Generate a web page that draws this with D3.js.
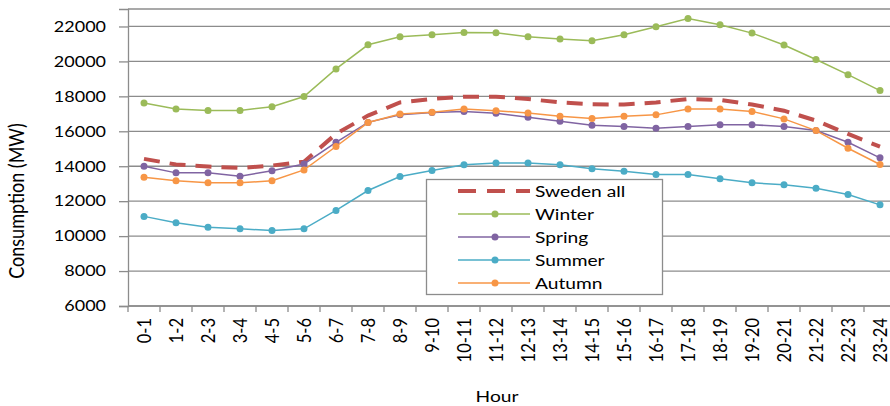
<!DOCTYPE html>
<html>
<head>
<meta charset="utf-8">
<script src="https://cdn.jsdelivr.net/npm/d3@7"></script>
<style>
  body { margin: 0; background: white; }
  svg { display: block; font-family: Lato, "Open Sans", sans-serif; }
</style>
</head>
<body>
<div id="viz-container"></div>
<script>
let w = 890;
let h = 406;

// hour categories
let hours = ["0-1","1-2","2-3","3-4","4-5","5-6","6-7","7-8","8-9","9-10","10-11","11-12",
             "12-13","13-14","14-15","15-16","16-17","17-18","18-19","19-20","20-21","21-22","22-23","23-24"];

let swedenAll = [14420,14100,13980,13900,14040,14260,15850,16900,17650,17850,17980,17980,
                 17850,17650,17550,17530,17650,17850,17800,17530,17180,16610,15850,15120];
let winter = [17620,17280,17190,17190,17410,17990,19570,20950,21410,21530,21650,21640,
              21410,21280,21180,21530,21980,22460,22100,21620,20940,20110,19240,18330];
let spring = [14000,13620,13620,13430,13740,14130,15370,16510,16950,17070,17140,17030,
              16800,16570,16340,16270,16170,16270,16380,16380,16270,16040,15370,14480];
let summer = [11130,10770,10510,10420,10320,10420,11470,12610,13410,13750,14080,14190,
              14190,14080,13850,13710,13530,13530,13280,13050,12940,12740,12380,11790];
let autumn = [13370,13170,13050,13050,13170,13790,15130,16500,16990,17090,17280,17180,
              17050,16860,16730,16860,16940,17280,17280,17140,16710,16040,15030,14100];

let yTicks = [6000,8000,10000,12000,14000,16000,18000,20000,22000];

let series = [
  {name: "Sweden all", values: swedenAll, color: "#C0504D", dashed: true},
  {name: "Winter", values: winter, color: "#9BBB59"},
  {name: "Spring", values: spring, color: "#8064A2"},
  {name: "Summer", values: summer, color: "#4BACC6"},
  {name: "Autumn", values: autumn, color: "#F79646"}
];

// the picture is a bit wider than tall, so text gets stretched sideways
let stretch = 1.2;

let viz = d3.select("#viz-container")
  .append("svg")
    .attr("width", w)
    .attr("height", h)
    .style("background-color", "white");

let plotLeft = 128, plotRight = 896, plotTop = 9, plotBottom = 306;

let x = d3.scaleBand().domain(hours).range([plotLeft, plotRight]);
let y = d3.scaleLinear().domain([6000, 23000]).range([plotBottom, plotTop]);

// gridlines
viz.append("g")
  .selectAll("line")
  .data(yTicks)
  .enter()
  .append("line")
    .attr("x1", plotLeft)
    .attr("x2", plotRight)
    .attr("y1", d => y(d))
    .attr("y2", d => y(d))
    .attr("stroke", "#8c8c8c")
    .attr("stroke-width", 1.3);

// top border of plot area
viz.append("line")
  .attr("x1", plotLeft).attr("x2", plotRight)
  .attr("y1", y(23000)).attr("y2", y(23000))
  .attr("stroke", "#8c8c8c").attr("stroke-width", 1.3);

// y axis
let yAxis = d3.axisLeft(y).tickValues(yTicks).tickSize(9).tickFormat(d3.format("d"));
let yg = viz.append("g")
  .attr("transform", "translate(" + plotLeft + ",0)")
  .call(yAxis);
yg.select(".domain").attr("stroke", "#8c8c8c").attr("stroke-width", 1.3);
yg.selectAll(".tick line").attr("stroke", "#8c8c8c").attr("stroke-width", 1.3);
yg.selectAll("text")
  .attr("x", 0)
  .attr("transform", "translate(-22,0) scale(" + stretch + ",1)")
  .attr("font-size", 15)
  .attr("fill", "#000")
  .attr("font-family", "Lato");

// x axis with ticks at category boundaries
let xg = viz.append("g")
  .attr("transform", "translate(0," + plotBottom + ")");
xg.append("line")
  .attr("x1", plotLeft).attr("x2", plotRight)
  .attr("stroke", "#8c8c8c").attr("stroke-width", 1.3);
xg.selectAll(".xtick")
  .data(hours)
  .enter()
  .append("line")
    .attr("class", "xtick")
    .attr("x1", d => x(d) + x.bandwidth())
    .attr("x2", d => x(d) + x.bandwidth())
    .attr("y1", 0)
    .attr("y2", 6)
    .attr("stroke", "#8c8c8c").attr("stroke-width", 1.3);
xg.append("line")
  .attr("x1", plotLeft).attr("x2", plotLeft).attr("y1", 0).attr("y2", 6)
  .attr("stroke", "#8c8c8c").attr("stroke-width", 1.3);
xg.selectAll(".xlabel")
  .data(hours)
  .enter()
  .append("text")
    .attr("class", "xlabel")
    .attr("transform", d => "translate(" + (x(d) + x.bandwidth() / 2) + ",12) scale(" + stretch + ",1) rotate(-90)")
    .attr("text-anchor", "end")
    .attr("dy", "0.35em")
    .attr("font-size", 16.5)
    .attr("fill", "#000")
    .text(d => d);

// axis titles
viz.append("text")
  .attr("transform", "translate(497,402) scale(" + stretch + ",1)")
  .attr("text-anchor", "middle")
  .attr("font-size", 16)
  .attr("fill", "#000")
  .text("Hour");

viz.append("text")
  .attr("transform", "translate(24,201) scale(" + stretch + ",1) rotate(-90)")
  .attr("text-anchor", "middle")
  .attr("font-size", 18)
  .attr("fill", "#000")
  .text("Consumption (MW)");

// lines
let line = d3.line()
  .x((d, i) => x(hours[i]) + x.bandwidth() / 2)
  .y(d => y(d));

let groups = viz.selectAll(".series")
  .data(series)
  .enter()
  .append("g")
    .attr("class", "series");

groups.append("path")
  .attr("d", d => line(d.values))
  .attr("fill", "none")
  .attr("stroke", d => d.color)
  .attr("stroke-width", d => d.dashed ? 4 : 1.5)
  .attr("stroke-dasharray", d => d.dashed ? "16,10" : null);

groups.filter(d => !d.dashed)
  .selectAll("circle")
  .data(d => d.values.map(v => ({v: v, color: d.color})))
  .enter()
  .append("circle")
    .attr("cx", (d, i) => x(hours[i]) + x.bandwidth() / 2)
    .attr("cy", d => y(d.v))
    .attr("r", 3.5)
    .attr("fill", d => d.color);

// legend
let legend = viz.append("g");
legend.append("rect")
  .attr("x", 426.5).attr("y", 179.5)
  .attr("width", 236).attr("height", 115)
  .attr("fill", "white")
  .attr("stroke", "#8c8c8c")
  .attr("stroke-width", 1.3);

let items = legend.selectAll(".item")
  .data(series)
  .enter()
  .append("g")
    .attr("class", "item")
    .attr("transform", (d, i) => "translate(0," + (191 + i * 23) + ")");

items.append("line")
  .attr("x1", 458).attr("x2", 530)
  .attr("stroke", d => d.color)
  .attr("stroke-width", d => d.dashed ? 4 : 1.5)
  .attr("stroke-dasharray", d => d.dashed ? "18,11" : null);

items.filter(d => !d.dashed)
  .append("circle")
    .attr("cx", 495)
    .attr("r", 3.5)
    .attr("fill", d => d.color);

items.append("text")
  .attr("transform", "translate(535,0) scale(" + stretch + ",1)")
  .attr("dy", "0.35em")
  .attr("font-size", 16)
  .attr("fill", "#000")
  .text(d => d.name);
</script>
</body>
</html>
